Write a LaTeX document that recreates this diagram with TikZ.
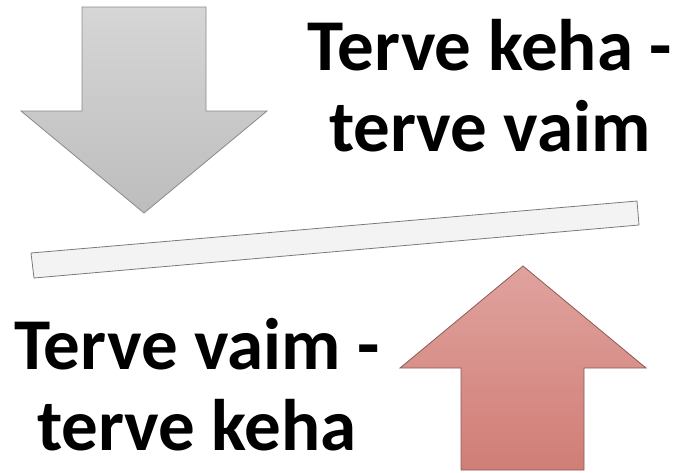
\documentclass[tikz,border=0pt]{standalone}
\usepackage{fontspec}
\setmainfont{Carlito}
\usepackage{tikz}
\usetikzlibrary{positioning}
\definecolor{grayTop}{HTML}{D6D6D6}
\definecolor{grayBot}{HTML}{BDBDBD}
\definecolor{grayEdge}{HTML}{8A8A8A}
\definecolor{redTop}{HTML}{E0A29E}
\definecolor{redBot}{HTML}{D07E76}
\definecolor{redEdge}{HTML}{8E5A56}
\definecolor{barFill}{HTML}{F3F3F3}
\definecolor{barEdge}{HTML}{7A7A7A}

\begin{document}
\begin{tikzpicture}[x=1pt,y=-1pt,
   slogan/.style={font=\fontsize{73}{81}\selectfont\bfseries,align=center,inner sep=0pt},
   down_arrow/.style={draw=grayEdge,line width=0.8pt,top color=grayTop,bottom color=grayBot},
   up_arrow/.style={draw=redEdge,line width=0.8pt,top color=redTop,bottom color=redBot},
   balance/.style={draw=barEdge,line width=0.8pt,fill=barFill}]
   \useasboundingbox (0,0) rectangle (682,472);
   % down arrow, top left
   \path[down_arrow] (82,7) -- (206,7) -- (206,111) -- (267,111) -- (144,213)
      -- (21,111) -- (82,111) -- cycle;
   % up arrow, bottom right
   \path[up_arrow] (461,470) -- (461,368) -- (400,368) -- (523,266) -- (646,368)
      -- (584,368) -- (584,470) -- cycle;
   % tilted bar
   \path[balance] (31,253) -- (637,201) -- (639,225) -- (34,278) -- cycle;
   \node[slogan] (mind_first) at (490,86) {Terve keha -\\terve vaim};
   \node[slogan] (body_first) at (197,385) {Terve vaim -\\terve keha};
\end{tikzpicture}
\end{document}
